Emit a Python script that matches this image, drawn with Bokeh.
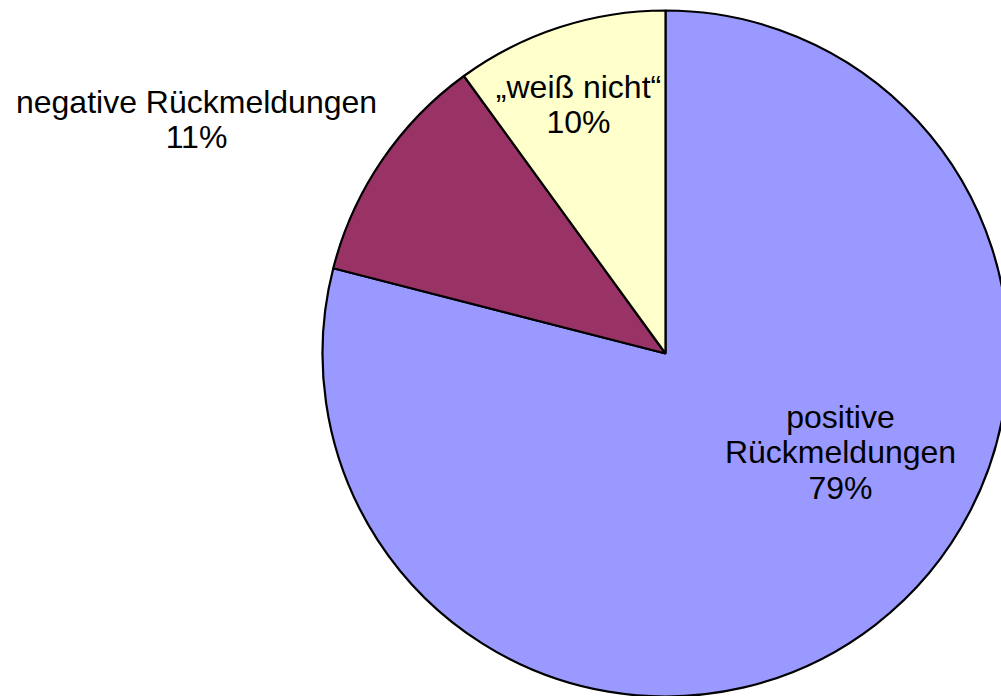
import numpy as np
from bokeh.plotting import figure
from bokeh.models import Range1d, ColumnDataSource
from bokeh.core.properties import value
from bokeh.embed import file_html
from bokeh.resources import INLINE

# data (clockwise from 12 o'clock)
categories = ["positive Rückmeldungen", "negative Rückmeldungen", "\u201eweiß nicht\u201c"]
percent = [79, 11, 10]
colors = ["#9999FF", "#993366", "#FFFFCC"]

# label line layout (lines of each label)
label_lines = [["positive", "Rückmeldungen", "79%"],
               ["negative Rückmeldungen", "11%"],
               ["\u201eweiß nicht\u201c", "10%"]]
# label anchor (page px): center x, first line anchor y
label_anchor = [(840, 416), (196, 101), (578, 86)]
line_gap = 35.5

W, H = 1001, 696
p = figure(width=W, height=H, output_backend="svg", toolbar_location=None,
           x_range=Range1d(0, W), y_range=Range1d(-H, 0),
           x_axis_type=None, y_axis_type=None, min_border=0)
p.grid.visible = False
p.outline_line_color = None
p.background_fill_color = "white"

cx, cy, r = 665, -353, 343
frac = np.array(percent, dtype=float) / sum(percent)
cum = np.concatenate([[0], np.cumsum(frac)])
start = np.pi / 2 - cum[1:] * 2 * np.pi
end = np.pi / 2 - cum[:-1] * 2 * np.pi

src = ColumnDataSource(dict(x=[cx] * 3, y=[cy] * 3, start=start, end=end,
                            color=colors, cat=categories))
p.wedge(x="x", y="y", radius=r, start_angle="start", end_angle="end",
        fill_color="color", line_color="black", line_width=2.2, source=src)

tx, ty, tt = [], [], []
for lines, (ax, ay) in zip(label_lines, label_anchor):
    for i, ln in enumerate(lines):
        tx.append(ax)
        ty.append(-(ay + i * line_gap))
        tt.append(ln)
p.text(x=tx, y=ty, text=tt, text_align="center", text_baseline="alphabetic",
       text_font=value("Liberation Sans"), text_font_size="32px", text_color="black")

open("out.html", "w").write(file_html(p, INLINE))
